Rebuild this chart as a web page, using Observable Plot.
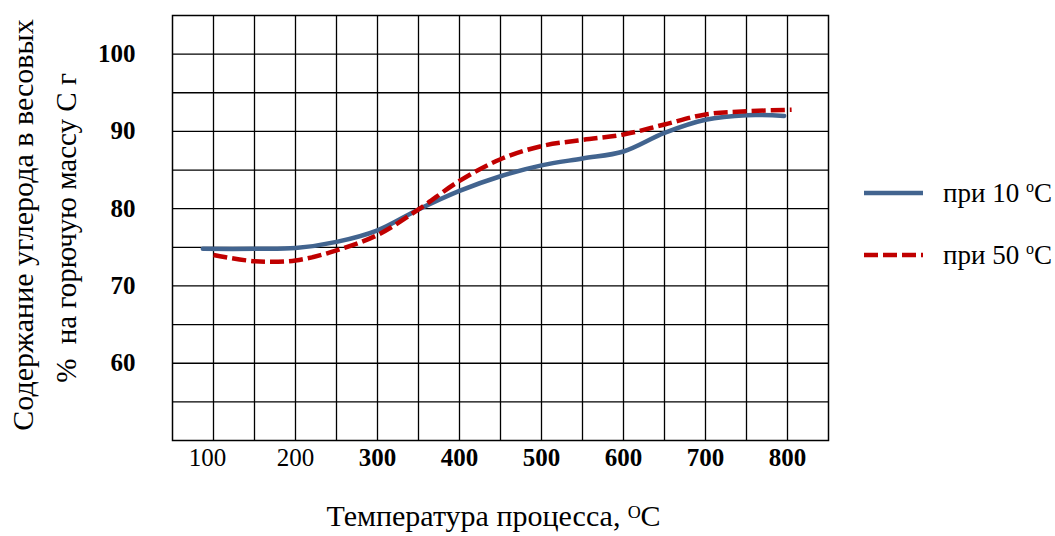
<!DOCTYPE html>
<html>
<head>
<meta charset="utf-8">
<script src="https://cdn.jsdelivr.net/npm/d3@7"></script>
<script src="https://cdn.jsdelivr.net/npm/@observablehq/plot@0.6"></script>
<style>
  body { margin: 0; background: #fff; }
  #wrap { position: relative; width: 1055px; height: 536px; font-family: "Liberation Serif", "Times New Roman", serif; }
  .leg { position: absolute; left: 864px; height: 28px; line-height: 28px; display: flex; align-items: center; font-size: 27px; color: #000; white-space: nowrap; }
  .leg svg { display: block; }
  .leg span.t { margin-left: 20px; }
  .leg sup { font-size: 16px; vertical-align: 10px; line-height: 0; }
</style>
</head>
<body>
<div id="wrap"></div>
<script>
// Data
const temps10 = [87, 150, 200, 250, 300, 350, 400, 450, 500, 550, 600, 650, 700, 750, 796];
const carbon10 = [74.8, 74.8, 74.9, 75.7, 77.2, 79.9, 82.3, 84.2, 85.6, 86.5, 87.4, 89.8, 91.5, 92.1, 92.0];
const temps50 = [100, 150, 200, 250, 300, 350, 400, 450, 500, 550, 600, 650, 700, 750, 805];
const carbon50 = [74.0, 73.2, 73.3, 74.6, 76.6, 79.9, 83.6, 86.4, 88.1, 88.9, 89.6, 90.9, 92.2, 92.6, 92.8];
const seriesLabels = ["при 10 ", "при 50 "];
const seriesColors = ["#42648f", "#c00000"];
const xTicksNormal = [100, 200];
const xTicksBold = [300, 400, 500, 600, 700, 800];
const yTicks = [60, 70, 80, 90, 100];
const xGrid = [100, 150, 200, 250, 300, 350, 400, 450, 500, 550, 600, 650, 700, 750, 800];
const yGrid = [55, 60, 65, 70, 75, 80, 85, 90, 95, 100];
const yTitle = ["Содержание углерода в весовых", "%  на горючую массу С г"];
const xTitle = "Температура процесса, ᴼC";

const data10 = temps10.map((t, i) => ({t, c: carbon10[i]}));
const data50 = temps50.map((t, i) => ({t, c: carbon50[i]}));

const gridStyle = {stroke: "#000", strokeOpacity: 1, strokeWidth: 1.3};
const axisStyle = {tickSize: 0, fontSize: 25, label: null};

const chart = Plot.plot({
  width: 1055,
  height: 536,
  marginLeft: 172,
  marginRight: 227,
  marginTop: 15,
  marginBottom: 96,
  x: {domain: [50, 850]},
  y: {domain: [50, 105]},
  style: {fontFamily: "'Liberation Serif', 'Times New Roman', serif", background: "#fff", color: "#000"},
  marks: [
    Plot.gridX(xGrid, gridStyle),
    Plot.gridY(yGrid, gridStyle),
    Plot.frame({stroke: "#000", strokeWidth: 1.5}),
    Plot.axisY(yTicks, {...axisStyle, tickPadding: 37, fontWeight: "bold"}),
    Plot.axisX([xTicksNormal[0]], {...axisStyle, tickPadding: 8, dx: -6}),
    Plot.axisX(xTicksNormal.slice(1), {...axisStyle, tickPadding: 8}),
    Plot.axisX(xTicksBold, {...axisStyle, tickPadding: 8, fontWeight: "bold"}),
    Plot.line(data10, {x: "t", y: "c", stroke: seriesColors[0], strokeWidth: 4.5, curve: "catmull-rom"}),
    Plot.line(data50, {x: "t", y: "c", stroke: seriesColors[1], strokeWidth: 4.5, curve: "catmull-rom", strokeDasharray: "14,5", strokeLinecap: "butt"}),
    Plot.text([yTitle[0]], {text: d => d, frameAnchor: "left", textAnchor: "middle", rotate: -90, dx: -149, dy: -3, fontSize: 30}),
    Plot.text([yTitle[1]], {text: d => d, frameAnchor: "left", textAnchor: "middle", rotate: -90, dx: -106, dy: 0, fontSize: 29}),
    Plot.text([xTitle], {text: d => d, frameAnchor: "bottom", dx: -7, dy: 85, fontSize: 30})
  ]
});

const wrap = document.getElementById("wrap");
wrap.appendChild(chart);

// Legend (HTML, to the right of the plot)
const legendTops = [179, 241];
seriesLabels.forEach((lab, i) => {
  const item = document.createElement("div");
  item.className = "leg";
  item.style.top = legendTops[i] + "px";
  const dash = i === 1 ? ' stroke-dasharray="14,5"' : '';
  item.innerHTML = `<svg width="59" height="8"><line x1="0" y1="4" x2="59" y2="4" stroke="${seriesColors[i]}" stroke-width="4.5"${dash}/></svg><span class="t">${lab}<sup>o</sup>C</span>`;
  wrap.appendChild(item);
});
</script>
</body>
</html>
